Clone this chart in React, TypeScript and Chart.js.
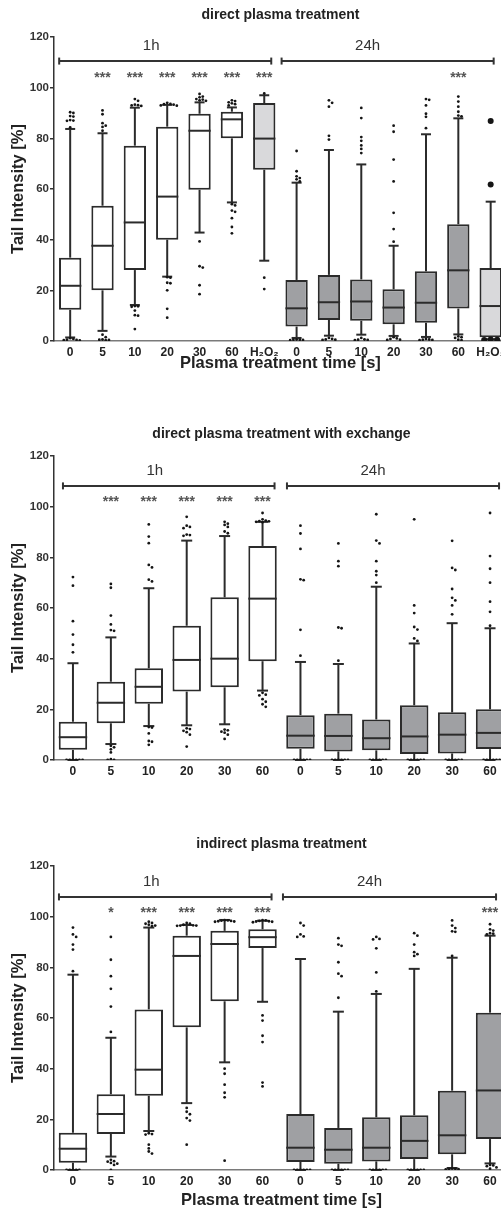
import React, { useEffect, useRef } from "react";
import { Chart, registerables } from "chart.js";

Chart.register(...registerables);

const FONT = '"Liberation Sans", Arial, Helvetica, sans-serif';
const INK = "#2b2b2b";
const WHITE = "#ffffff";
const GREY = "#9fa0a3";
const LIGHT = "#d9d9db";
const PLOT_H = 304;
const CANVAS_W = 509;
const Y_TITLE = "Tail Intensity [%]";
const X_TITLE = "Plasma treatment time [s]";

// ---------- Panel 1: direct plasma treatment ----------
const p1Title = "direct plasma treatment";
const p1Labels = ["0", "5", "10", "20", "30", "60", "H₂O₂", "0", "5", "10", "20", "30", "60", "H₂O₂"];
const p1Q1 = [12.3, 20, 28, 40, 59.7, 80, 67.6, 5.7, 8.3, 8, 6.6, 7.2, 12.8, 1.5];
const p1Median = [21.8, 37.6, 46.8, 57, 83, 87.5, 79.9, 12.9, 15.3, 15.6, 13.2, 15.1, 27.9, 13.8];
const p1Q3 = [32.9, 53.4, 77.1, 84.6, 89.7, 90.5, 93.9, 24.1, 26.1, 24.3, 20.4, 27.5, 46.1, 28.8];
const p1WhiskerLow = [1.4, 4, 14.2, 25.4, 42.8, 54.7, 31.7, 1.2, 2.1, 2.5, 2, 1.6, 2.6, 0.7];
const p1WhiskerHigh = [83.7, 82, 92.1, 93.2, 94.2, 92.2, 97, 62.5, 75.4, 69.7, 37.6, 81.6, 87.9, 55];
const p1Outliers = [
  [90.3, 90, 88.8, 88.6, 87.2, 87, 86.9, 84.3, 1.1, 0.8, 0.5, 0.3, 0.2, 0.4],
  [91, 89.5, 86, 85, 84.5, 83, 2.5, 1.5, 0.6, 0.4, 0.5, 0.3],
  [95.5, 94.8, 93.3, 93, 92.8, 93.1, 13.8, 13.5, 13.7, 12, 10, 10.2, 4.7],
  [94, 93.6, 93.3, 93, 92.9, 93.5, 25, 25.2, 23, 22.8, 20, 12.7, 9.2],
  [97.5, 96.5, 96.2, 95.5, 95.3, 95, 94.8, 39.3, 29.5, 29, 22, 18.5],
  [95, 94.7, 94.2, 93.8, 93.5, 93, 54, 53.5, 51.5, 51, 48.5, 45, 42.5],
  [97.7, 25, 20.5],
  [75, 67, 65, 64.3, 63.8, 63, 0.6, 0.5, 0.4, 0.3, 0.5],
  [95, 94, 92.5, 81, 79.5, 1.2, 0.8, 0.5, 0.4, 0.6],
  [92, 88, 80.5, 79, 77.2, 75.8, 74.2, 1.2, 0.6, 0.5, 0.4, 0.3],
  [39.2, 44.2, 50.6, 63, 71.6, 82.6, 85, 1.5, 1, 0.8, 0.5, 0.4],
  [84, 88.5, 89.7, 93, 95.5, 95.2, 0.8, 0.5, 0.4, 0.3, 0.6],
  [89, 88.7, 90.5, 92.5, 94.5, 96.5, 1.8, 1.5, 1.2, 0.5, 0.3],
  [61.8, 86.8, 0.5, 0.4, 0.6, 0.3],
];
const p1Stars = ["", "***", "***", "***", "***", "***", "***", "", "", "", "", "", "***", ""];
const p1Groups = [
  { label: "1h", from: 0, to: 6 },
  { label: "24h", from: 7, to: 13 },
];
const p1BigDotCats = [13];

// ---------- Panel 2: direct plasma treatment with exchange ----------
const p2Title = "direct plasma treatment with exchange";
const p2Labels = ["0", "5", "10", "20", "30", "60", "0", "5", "10", "20", "30", "60"];
const p2Q1 = [4, 14.5, 22.2, 27, 28.7, 39, 4.4, 3.4, 3.8, 2.4, 2.6, 4.3];
const p2Median = [9, 22.6, 28.9, 39.5, 40, 63.7, 9.6, 9.5, 8.6, 9.3, 10, 10.7];
const p2Q3 = [15.1, 30.9, 36.2, 53, 64.2, 84.5, 17.7, 18.3, 16, 21.6, 18.8, 20];
const p2WhiskerLow = [0, 6.3, 13.4, 13.7, 14.1, 27.4, 0, 0, 0, 0, 0, 0];
const p2WhiskerHigh = [38.2, 48.4, 67.8, 86.6, 88.4, 94, 38.7, 37.9, 68.4, 46, 54, 52];
const p2Outliers = [
  [42.5, 45.5, 49.5, 54.8, 68.8, 72.2, 0, 0, 0, 0, 0, 0],
  [51, 51.3, 53.5, 57, 68, 69.5, 5.6, 5, 4.2, 3, 0.3, 0, 0],
  [70.5, 71.2, 76, 77, 85.6, 88.2, 93, 13, 12.8, 10.5, 7.5, 7.2, 6],
  [88.5, 88.8, 89, 91.5, 92, 92.5, 96, 12.5, 12.2, 11.5, 11, 10, 5.3],
  [89.5, 90.2, 92, 92.8, 93.3, 94, 12, 11.7, 11.2, 10.8, 10, 8.3],
  [94, 93.8, 94.2, 94.3, 94.5, 95, 97.5, 26.5, 25.8, 25.5, 24, 23, 22, 21],
  [41.2, 51.4, 71, 71.3, 83.3, 89.4, 92.5, 0, 0, 0, 0, 0, 0],
  [39.2, 52, 52.3, 76.5, 78.5, 85.5, 0, 0, 0, 0, 0, 0],
  [70, 73, 74.5, 78.5, 85.5, 86.6, 97, 0, 0, 0, 0, 0, 0],
  [47, 48, 51.5, 52.5, 58, 61, 95, 0, 0, 0, 0, 0, 0],
  [57.5, 61, 63, 64, 67.5, 75, 75.8, 86.5, 0, 0, 0, 0, 0, 0],
  [53, 58.5, 62.5, 70, 75.5, 80.5, 97.5, 0, 0, 0, 0, 0, 0],
];
const p2Stars = ["", "***", "***", "***", "***", "***", "", "", "", "", "", ""];
const p2Groups = [
  { label: "1h", from: 0, to: 5 },
  { label: "24h", from: 6, to: 11 },
];

// ---------- Panel 3: indirect plasma treatment ----------
const p3Title = "indirect plasma treatment";
const p3Labels = ["0", "5", "10", "20", "30", "60", "0", "5", "10", "20", "30", "60"];
const p3Q1 = [2.9, 14.2, 29.3, 56.3, 66.6, 87.6, 3.2, 2.5, 3.4, 4.3, 6.2, 12.2];
const p3Median = [8.4, 22.1, 39.6, 84.5, 89.2, 91.9, 8.8, 8, 8.8, 11.5, 13.7, 31.4];
const p3Q3 = [14.7, 29.9, 63.4, 92.5, 94.4, 95, 22.1, 16.6, 20.8, 21.6, 31.3, 62.1];
const p3WhiskerLow = [0, 5.3, 15.4, 26.4, 42.5, 66.4, 0, 0, 0, 0, 0.8, 2.6];
const p3WhiskerHigh = [77.1, 52.2, 95.7, 96.7, 98.7, 98.4, 83.3, 62.5, 69.5, 79.4, 83.8, 92.5];
const p3Outliers = [
  [78.5, 87, 89, 92, 93, 95.7, 0, 0, 0, 0, 0],
  [54.5, 64.5, 71.5, 76.5, 83, 92, 4, 3.5, 3.3, 2.8, 2.5, 2, 0],
  [96.3, 96.8, 97.2, 97.5, 98, 96.5, 14.5, 14.2, 14, 10, 8.5, 7.3, 6.5],
  [97.2, 96.5, 96.6, 96.4, 96.8, 96.5, 97.5, 24.5, 23, 22, 20.5, 19.5, 10],
  [98, 98.3, 98.5, 98.2, 98.4, 98.6, 98.1, 40, 38, 33.7, 30.5, 28.7, 3.7],
  [98, 98.5, 98.2, 98.3, 98.6, 98.1, 97.8, 61, 59, 53, 50.5, 34.5, 33],
  [92, 92.2, 93, 96.5, 97.5, 0, 0, 0, 0, 0, 0],
  [68, 76.5, 77.5, 82, 88.5, 89, 91.5, 0, 0, 0, 0, 0, 0],
  [70.5, 78, 87.5, 91, 91.2, 92, 0, 0, 0, 0, 0, 0],
  [84.5, 85.2, 86, 89, 92.5, 93.5, 0, 0, 0, 0, 0, 0],
  [84.5, 94, 94.2, 95.5, 96.5, 98.5, 0.5, 0.3, 0.4, 0.2, 0.6],
  [93, 93.3, 93.5, 94.5, 95, 97, 2, 1.8, 1.5, 1, 0.5],
];
const p3Stars = ["", "*", "***", "***", "***", "***", "", "", "", "", "", "***"];
const p3Groups = [
  { label: "1h", from: 0, to: 5 },
  { label: "24h", from: 6, to: 11 },
];

type Group = { label: string; from: number; to: number };
type PanelCfg = {
  title: string;
  labels: string[];
  q1: number[];
  median: number[];
  q3: number[];
  lo: number[];
  hi: number[];
  outliers: number[][];
  stars: string[];
  groups: Group[];
  bigDots: number[];
  top: number;
  height: number;
  padTop: number;
  xTitle: string | null;
  xTitlePad: number;
  barPct: number;
  capW: number;
  bracketLevel: number;
  bracketPads: number[][];
  labelShift: number[];
};

const panels: PanelCfg[] = [
  {
    title: p1Title, labels: p1Labels, q1: p1Q1, median: p1Median, q3: p1Q3, lo: p1WhiskerLow, hi: p1WhiskerHigh,
    outliers: p1Outliers, stars: p1Stars, groups: p1Groups, bigDots: p1BigDotCats,
    top: 0, height: 385, padTop: 37, xTitle: X_TITLE, xTitlePad: 12, barPct: 0.69, capW: 10,
    bracketLevel: 110.5, bracketPads: [[-11, 7], [-15, 3]], labelShift: [-14, -20],
  },
  {
    title: p2Title, labels: p2Labels, q1: p2Q1, median: p2Median, q3: p2Q3, lo: p2WhiskerLow, hi: p2WhiskerHigh,
    outliers: p2Outliers, stars: p2Stars, groups: p2Groups, bigDots: [],
    top: 400, height: 390, padTop: 56, xTitle: null, xTitlePad: 0, barPct: 0.75, capW: 11,
    bracketLevel: 108.2, bracketPads: [[-10, 12], [-13.5, 9]], labelShift: [-14, -20],
  },
  {
    title: p3Title, labels: p3Labels, q1: p3Q1, median: p3Median, q3: p3Q3, lo: p3WhiskerLow, hi: p3WhiskerHigh,
    outliers: p3Outliers, stars: p3Stars, groups: p3Groups, bigDots: [],
    top: 810, height: 400, padTop: 56, xTitle: X_TITLE, xTitlePad: 0, barPct: 0.75, capW: 11,
    bracketLevel: 107.8, bracketPads: [[-14, 9], [-17.5, 6]], labelShift: [-14, -20],
  },
];

function fillFor(p: PanelCfg, i: number): string {
  if (p.labels[i].startsWith("H")) return LIGHT;
  if (i >= p.groups[1].from) return GREY;
  return WHITE;
}

function makeDecor(p: PanelCfg) {
  return {
    id: "boxDecor",
    afterDatasetsDraw(chart: any) {
      const { ctx, chartArea: ca } = chart;
      const xs = chart.scales.x;
      const ys = chart.scales.y;
      const meta = chart.getDatasetMeta(0);
      const seg = (x1: number, y1: number, x2: number, y2: number) => {
        ctx.beginPath();
        ctx.moveTo(x1, y1);
        ctx.lineTo(x2, y2);
        ctx.stroke();
      };
      ctx.save();
      ctx.strokeStyle = INK;
      ctx.lineWidth = 2;
      ctx.lineCap = "butt";

      // whiskers, caps, medians
      p.labels.forEach((_, i) => {
        const el = meta.data[i];
        const cx = el.x;
        const w = el.width;
        const yQ1 = ys.getPixelForValue(p.q1[i]);
        const yQ3 = ys.getPixelForValue(p.q3[i]);
        const yMed = ys.getPixelForValue(p.median[i]);
        const yLo = ys.getPixelForValue(p.lo[i]);
        const yHi = ys.getPixelForValue(p.hi[i]);
        seg(cx, yQ3, cx, yHi);
        seg(cx - p.capW / 2, yHi, cx + p.capW / 2, yHi);
        seg(cx, yQ1, cx, yLo);
        seg(cx - p.capW / 2, yLo, cx + p.capW / 2, yLo);
        seg(cx - w / 2, yMed, cx + w / 2, yMed);
      });

      // outliers (simple swarm so coincident values spread sideways)
      ctx.save();
      ctx.beginPath();
      ctx.rect(ca.left, 0, ca.right - ca.left, ca.bottom);
      ctx.clip();
      ctx.fillStyle = "#151515";
      p.outliers.forEach((vals, i) => {
        const cx = meta.data[i].x;
        const big = p.bigDots.includes(i);
        const r = big ? 3 : 1.4;
        const step = big ? 6.5 : 3.2;
        const placed: { dx: number; py: number }[] = [];
        [...vals].sort((a, b) => b - a).forEach((v) => {
          const py = ys.getPixelForValue(v);
          let dx = 0;
          for (let k = 0; k < 30; k++) {
            dx = k === 0 ? 0 : (k % 2 === 1 ? 1 : -1) * Math.ceil(k / 2) * step;
            const clash = placed.some((q) => Math.hypot(q.dx - dx, q.py - py) < step - 0.2);
            if (!clash) break;
          }
          placed.push({ dx, py });
          ctx.beginPath();
          ctx.arc(cx + dx, py, r, 0, Math.PI * 2);
          ctx.fill();
        });
      });
      ctx.restore();

      // brackets with group labels
      const yBr = ys.getPixelForValue(p.bracketLevel);
      ctx.strokeStyle = "#333";
      ctx.lineWidth = 2;
      p.groups.forEach((g, gi) => {
        const x1 = xs.getPixelForValue(g.from) + p.bracketPads[gi][0];
        const x2 = xs.getPixelForValue(g.to) + p.bracketPads[gi][1];
        seg(x1, yBr, x2, yBr);
        seg(x1, yBr - 3.5, x1, yBr + 3.5);
        seg(x2, yBr - 3.5, x2, yBr + 3.5);
        ctx.fillStyle = "#333";
        ctx.font = `15px ${FONT}`;
        ctx.textAlign = "center";
        ctx.textBaseline = "middle";
        ctx.fillText(g.label, (x1 + x2) / 2 + p.labelShift[gi], yBr - 15);
      });

      // significance stars
      ctx.fillStyle = "#555";
      ctx.font = `bold 14px ${FONT}`;
      ctx.textAlign = "center";
      ctx.textBaseline = "middle";
      p.stars.forEach((s, i) => {
        if (!s) return;
        ctx.fillText(s, meta.data[i].x, yBr + 13.5 + 3.2);
      });

      // panel title
      ctx.fillStyle = "#222";
      ctx.font = `bold 14px ${FONT}`;
      ctx.fillText(p.title, (ca.left + ca.right) / 2, ca.top - 22);
      ctx.restore();
    },
  };
}

function BoxPanel({ p }: { p: PanelCfg }) {
  const ref = useRef<HTMLCanvasElement>(null);
  useEffect(() => {
    const canvas = ref.current!;
    const chart = new Chart(canvas, {
      type: "bar",
      data: {
        labels: p.labels,
        datasets: [
          {
            data: p.q1.map((v, i) => [v, p.q3[i]]),
            backgroundColor: p.labels.map((_, i) => fillFor(p, i)),
            borderColor: INK,
            borderWidth: 2,
            borderSkipped: false,
            barPercentage: p.barPct,
            categoryPercentage: 1,
          } as any,
        ],
      },
      options: {
        responsive: false,
        animation: false,
        devicePixelRatio: 1,
        layout: { padding: { top: p.padTop, left: 0, right: 0, bottom: 0 } },
        plugins: { legend: { display: false }, tooltip: { enabled: false }, title: { display: false } },
        scales: {
          x: {
            type: "category",
            offset: true,
            grid: { display: false, drawTicks: false },
            border: { display: true, color: "#7a7a7a", width: 1.5 },
            ticks: {
              color: "#222",
              font: { family: FONT, size: 12, weight: "bold" },
              padding: 4,
              maxRotation: 0,
              autoSkip: false,
            },
            title: p.xTitle
              ? {
                  display: true,
                  text: p.xTitle,
                  color: "#222",
                  font: { family: FONT, size: 16.5, weight: "bold" },
                  padding: { top: 0, bottom: p.xTitlePad },
                }
              : { display: false },
            afterFit: (s: any) => {
              s.height = p.height - p.padTop - PLOT_H;
            },
          },
          y: {
            min: 0,
            max: 120,
            ticks: {
              stepSize: 20,
              color: "#333",
              font: { family: FONT, size: 11.5, weight: "bold" },
              padding: 1,
            },
            grid: { drawOnChartArea: false, drawTicks: true, tickLength: 4, color: "#333", lineWidth: 1.5 },
            border: { display: true, color: "#333", width: 1.5 },
            title: {
              display: true,
              text: Y_TITLE,
              color: "#222",
              font: { family: FONT, size: 16.5, weight: "bold" },
              padding: { top: 9, bottom: 0 },
            },
            afterFit: (s: any) => {
              s.width = 54;
            },
          },
        },
      } as any,
      plugins: [makeDecor(p)],
    });
    return () => chart.destroy();
  }, [p]);
  return (
    <canvas
      ref={ref}
      width={CANVAS_W}
      height={p.height}
      style={{ position: "absolute", left: 0, top: p.top, width: CANVAS_W, height: p.height }}
    />
  );
}

export default function App() {
  return (
    <div
      style={{
        position: "absolute",
        left: 0,
        top: 0,
        width: 501,
        height: 1209,
        overflow: "hidden",
        background: "#fff",
      }}
    >
      {panels.map((p, i) => (
        <BoxPanel key={i} p={p} />
      ))}
    </div>
  );
}
